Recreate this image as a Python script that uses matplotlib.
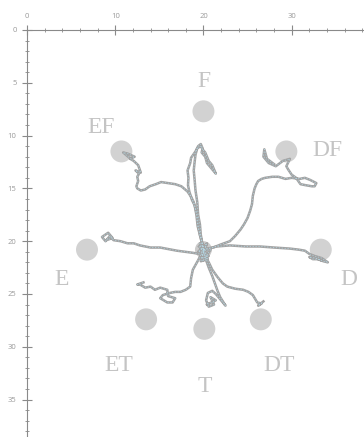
import matplotlib
matplotlib.use("Agg")
import matplotlib.pyplot as plt
from matplotlib.ticker import MultipleLocator

# targets
target_names = ["F", "EF", "DF", "E", "D", "ET", "T", "DT"]
target_x = [20.0, 10.7, 29.4, 6.8, 33.3, 13.5, 20.1, 26.5]
target_y = [7.7, 11.5, 11.5, 20.8, 20.8, 27.4, 28.3, 27.4]
label_x = [20.1, 8.4, 34.0, 3.9, 36.5, 10.4, 20.1, 28.6]
label_y = [4.9, 9.2, 11.4, 23.6, 23.6, 31.8, 33.8, 31.8]

# start point (centre)
centre_x = [20.0]
centre_y = [20.8]

# trajectories
path_F_x = [20.0, 19.8, 19.6, 19.35, 19.2, 19.0, 18.7, 18.4, 18.25, 18.3, 18.2, 18.5, 18.6, 19.1, 19.4, 19.7, 19.9, 19.8, 20.2, 20.4, 20.8, 21.1, 21.4, 21.2, 21.0, 20.6, 20.2, 19.9, 19.7, 19.3, 19.1, 19.0, 18.9, 19.0, 19.1, 19.3, 19.4, 19.6, 19.7, 20.0]
path_F_y = [20.8, 20.0, 19.4, 18.6, 17.5, 16.6, 16.1, 15.3, 14.7, 14.0, 13.3, 12.6, 12.1, 11.5, 11.0, 10.8, 11.2, 11.6, 12.0, 12.6, 13.0, 13.3, 13.6, 13.2, 12.8, 12.4, 11.6, 11.3, 11.0, 11.2, 11.8, 12.5, 13.3, 14.2, 15.2, 16.3, 17.5, 18.4, 19.4, 20.8]
path_EF_x = [20.0, 19.8, 19.6, 19.4, 19.3, 19.1, 18.9, 18.6, 18.2, 17.5, 16.8, 16.0, 15.2, 14.6, 13.9, 13.4, 12.9, 12.5, 12.4, 12.6, 12.5, 12.7, 12.3, 12.9, 12.6, 12.1, 11.7, 12.2, 11.4, 10.9, 11.6]
path_EF_y = [20.8, 20.1, 19.4, 18.5, 17.6, 16.9, 16.3, 15.8, 15.3, 14.8, 14.6, 14.5, 14.4, 14.6, 14.8, 15.1, 15.2, 15.0, 14.8, 14.3, 13.9, 13.6, 13.3, 13.5, 12.8, 12.4, 12.2, 12.0, 11.7, 11.6, 12.1]
path_DF_x = [20.0, 21.1, 22.0, 23.0, 23.6, 24.2, 24.6, 25.0, 25.3, 25.5, 25.6, 25.8, 26.0, 26.2, 26.6, 27.0, 27.8, 28.5, 29.3, 30.0, 30.9, 31.5, 32.1, 32.8, 32.6, 32.3, 31.6, 31.0, 30.5, 30.0, 29.6, 29.4, 29.8, 29.0, 28.2, 27.4, 26.8, 26.9, 27.2, 28.0]
path_DF_y = [20.8, 20.6, 20.3, 20.0, 19.5, 18.9, 18.4, 17.8, 17.1, 16.5, 15.7, 15.0, 14.6, 14.3, 14.1, 14.0, 13.9, 13.9, 14.1, 14.0, 14.1, 14.0, 14.2, 14.5, 14.8, 14.8, 14.7, 14.6, 14.0, 13.7, 13.2, 12.9, 12.2, 12.4, 12.9, 12.6, 12.0, 11.3, 12.2, 12.7]
path_D_x = [20.0, 21.5, 23.0, 24.8, 26.4, 28.0, 29.8, 30.8, 31.5, 32.0, 32.6, 33.4, 34.1, 33.6, 33.0, 32.4, 32.0, 32.7, 33.3]
path_D_y = [20.8, 20.5, 20.4, 20.5, 20.5, 20.6, 20.7, 20.8, 20.9, 21.2, 21.4, 21.6, 22.0, 21.9, 21.7, 21.7, 21.5, 21.6, 21.8]
path_E_x = [20.2, 19.5, 18.8, 17.0, 15.1, 14.0, 12.8, 12.1, 11.4, 10.6, 9.8, 9.4, 8.9, 8.5, 9.2, 9.7, 9.0]
path_E_y = [21.3, 21.2, 21.1, 20.9, 20.6, 20.6, 20.4, 20.2, 20.2, 20.0, 19.9, 19.5, 20.0, 19.6, 19.2, 19.7, 19.9]
path_ET_x = [20.0, 19.4, 18.8, 18.6, 18.5, 18.0, 17.4, 16.8, 16.2, 15.4, 15.1, 15.9, 16.5, 16.8, 16.0, 15.9, 15.1, 14.5, 14.0, 13.4, 12.8, 12.5, 13.2]
path_ET_y = [20.8, 21.8, 22.7, 23.5, 24.3, 24.6, 24.8, 24.8, 24.9, 25.1, 25.4, 25.8, 25.8, 25.4, 25.2, 24.6, 24.4, 24.6, 24.3, 24.4, 24.1, 24.1, 23.9]
path_T_x = [20.0, 20.3, 20.6, 21.0, 21.3, 21.6, 21.9, 22.5, 22.0, 21.4, 21.0, 20.5, 20.3, 20.6, 21.2, 20.8, 21.4, 20.4]
path_T_y = [21.0, 21.8, 22.5, 23.3, 24.0, 24.7, 25.3, 26.1, 25.6, 25.0, 24.7, 24.9, 25.6, 26.2, 26.0, 25.3, 25.6, 26.0]
path_DT_x = [20.0, 20.6, 21.0, 21.6, 22.2, 22.7, 23.6, 24.5, 25.1, 25.6, 26.1, 26.6, 26.2, 26.8]
path_DT_y = [21.1, 22.0, 22.7, 23.4, 24.0, 24.3, 24.5, 24.6, 24.8, 25.1, 25.8, 25.9, 26.1, 25.7]
path_C_x = [19.5, 20.6, 19.8, 20.4, 19.4, 20.8, 20.0, 19.6, 20.5, 19.7, 20.3]
path_C_y = [20.5, 21.4, 21.6, 20.2, 21.0, 20.8, 21.8, 20.2, 21.7, 21.9, 20.4]

paths = [(path_F_x, path_F_y), (path_EF_x, path_EF_y), (path_DF_x, path_DF_y),
         (path_D_x, path_D_y), (path_E_x, path_E_y), (path_ET_x, path_ET_y),
         (path_T_x, path_T_y), (path_DT_x, path_DT_y), (path_C_x, path_C_y)]

fig = plt.figure(figsize=(3.64, 4.37), dpi=100)
ax = fig.add_axes([27 / 364, 0, 1 - 27 / 364, 1 - 30 / 437])
ax.set_xlim(0, (364 - 26.7) / 8.83)
ax.set_ylim((437 - 30) / 10.56, 0)

ax.scatter(target_x, target_y, s=250, color="#d2d2d2", edgecolors="none", zorder=1)
ax.scatter(centre_x, centre_y, s=150, color="#bdbdbd", edgecolors="none", alpha=0.8, zorder=1)
for (px, py) in paths:
    ax.plot(px, py, color="#a2a2a2", lw=1.8, solid_joinstyle="round", zorder=2)
    ax.plot(px, py, color="#b6dbe8", lw=0.6, ls=(0, (1.5, 2.0)), alpha=0.8, zorder=3)

for n, lx, ly in zip(target_names, label_x, label_y):
    ax.text(lx, ly, n, ha="center", va="center", fontsize=17,
            family="Liberation Serif", color="#c4c4c4", zorder=4)

for s in ["right", "bottom"]:
    ax.spines[s].set_visible(False)
for s in ["top", "left"]:
    ax.spines[s].set_color("#8a8a8a")
    ax.spines[s].set_linewidth(0.8)

ax.xaxis.set_major_locator(MultipleLocator(10))
ax.xaxis.set_minor_locator(MultipleLocator(2))
ax.yaxis.set_major_locator(MultipleLocator(5))
ax.yaxis.set_minor_locator(MultipleLocator(1))
ax.xaxis.tick_top()
ax.tick_params(which="major", direction="inout", length=7, width=0.8, color="#8a8a8a",
               labelsize=5.5, labelcolor="#9a9a9a", pad=4)
ax.tick_params(which="minor", direction="inout", length=3.5, width=0.6, color="#8a8a8a")
for lab in ax.get_xticklabels() + ax.get_yticklabels():
    lab.set_family("Open Sans")

fig.savefig("out.png", dpi=100)
